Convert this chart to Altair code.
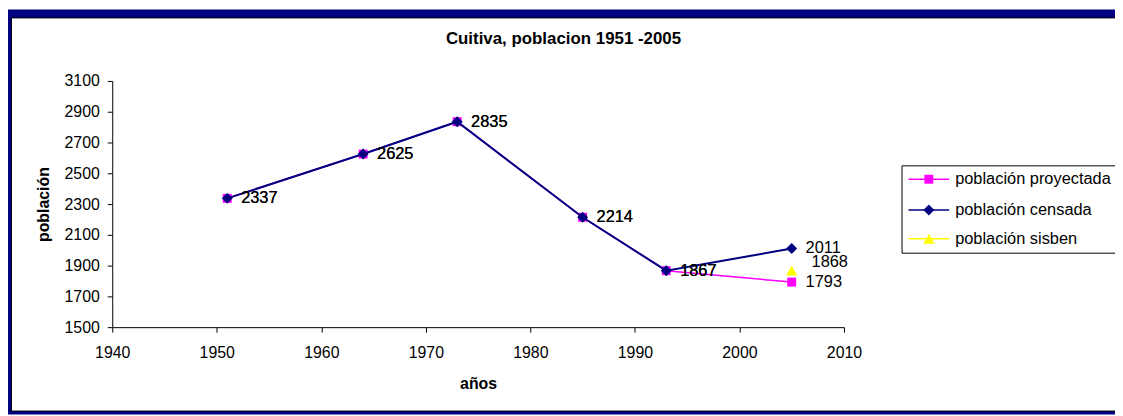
import altair as alt
import pandas as pd

# ---- data ----
years = [1951, 1964, 1973, 1985, 1993, 2005]
proyectada = [2337, 2625, 2835, 2214, 1867, 1793]
censada = [2337, 2625, 2835, 2214, 1867, 2011]
sisben_years = [2005]
sisben = [1868]

series_names = ["población proyectada", "población censada", "población sisben"]
series_colors = ["#FF00FF", "#000080", "#FFFF00"]
series_shapes = ["square", "diamond", "triangle-up"]
series_sizes = [81, 121, 130]

x_ticks = [1940, 1950, 1960, 1970, 1980, 1990, 2000, 2010]
y_ticks = [1500, 1700, 1900, 2100, 2300, 2500, 2700, 2900, 3100]

title_text = "Cuitiva, poblacion 1951 -2005"
x_title = "años"
y_title = "población"

FONT = "Liberation Sans"
W, H = 737, 248

df_p = pd.DataFrame({"year": years, "value": proyectada})
df_c = pd.DataFrame({"year": years, "value": censada})
df_s = pd.DataFrame({"year": sisben_years, "value": sisben})

X = alt.X("year:Q",
          scale=alt.Scale(domain=[x_ticks[0], x_ticks[-1]], nice=False, zero=False),
          axis=alt.Axis(values=x_ticks, title=x_title, format="d", grid=False, zindex=1,
                        labelFont=FONT, labelFontSize=16, labelColor="black",
                        labelPadding=13, tickSize=5, tickColor="black",
                        domainColor="black", labelFlush=False,
                        titleFont=FONT, titleFontSize=16, titleFontWeight="bold",
                        titleColor="black", titleX=W / 2, titleY=62,
                        titleBaseline="alphabetic", titleAlign="center"))
Y = alt.Y("value:Q",
          scale=alt.Scale(domain=[y_ticks[0], y_ticks[-1]], nice=False, zero=False),
          axis=alt.Axis(values=y_ticks, title=y_title, format="d", grid=False, zindex=1,
                        labelFont=FONT, labelFontSize=16, labelColor="black",
                        labelPadding=8, tickSize=5, tickColor="black",
                        domainColor="black", labelFlush=False,
                        titleFont=FONT, titleFontSize=16, titleFontWeight="bold",
                        titleColor="black", titleX=-64.5, titleY=H / 2,
                        titleAngle=-90, titleBaseline="alphabetic",
                        titleAlign="center"))

one = pd.DataFrame({"k": [0]})

# ---- frame decoration ----
frame_outer = alt.Chart(one).mark_rect(color="#000080").encode(
    x=alt.value(-105), x2=alt.value(1010), y=alt.value(-72), y2=alt.value(336))
frame_inner = alt.Chart(one).mark_rect(fill="white", stroke="black", strokeWidth=1).encode(
    x=alt.value(-101.5), x2=alt.value(1100), y=alt.value(-63.5), y2=alt.value(332.5))

title = alt.Chart(one).mark_text(font=FONT, fontSize=17, fontWeight="bold",
                                 align="center", baseline="alphabetic",
                                 color="black").encode(
    x=alt.value(454.5), y=alt.value(-37), text=alt.value(title_text))

# ---- data layers ----
line_p = alt.Chart(df_p).mark_line(color=series_colors[0], strokeWidth=1.5).encode(x=X, y=Y)
pts_p = alt.Chart(df_p).mark_point(shape=series_shapes[0], size=series_sizes[0], filled=True,
                                   opacity=1, color=series_colors[0]).encode(x=X, y=Y)
line_c = alt.Chart(df_c).mark_line(color=series_colors[1], strokeWidth=2).encode(x=X, y=Y)
pts_c = alt.Chart(df_c).mark_point(shape=series_shapes[1], size=series_sizes[1], filled=True,
                                   opacity=1, color=series_colors[1]).encode(x=X, y=Y)
pts_s = alt.Chart(df_s).mark_point(shape=series_shapes[2], size=series_sizes[2], filled=True,
                                   opacity=1, color=series_colors[2]).encode(x=X, y=Y)

lab_p = alt.Chart(df_p).mark_text(font=FONT, fontSize=16.5, align="left", baseline="middle",
                                  dx=14, color="black").encode(x=X, y=Y, text=alt.Text("value:Q", format="d"))
lab_c = alt.Chart(df_c).mark_text(font=FONT, fontSize=16.5, align="left", baseline="middle",
                                  dx=14, color="black").encode(x=X, y=Y, text=alt.Text("value:Q", format="d"))
lab_s = alt.Chart(df_s).mark_text(font=FONT, fontSize=16.5, align="left", baseline="middle",
                                  dx=20, dy=-9, color="black").encode(x=X, y=Y, text=alt.Text("value:Q", format="d"))

# ---- legend (manual, Excel style) ----
legend_layers = [
    alt.Chart(one).mark_rect(fill="white", stroke="black", strokeWidth=1).encode(
        x=alt.value(795.5), x2=alt.value(1100), y=alt.value(85.5), y2=alt.value(173.5))
]
legend_y = [99, 130, 159]
for name, col, shp, sz, ly in zip(series_names, series_colors, series_shapes, series_sizes, legend_y):
    legend_layers.append(alt.Chart(one).mark_rule(color=col, strokeWidth=1.5).encode(
        x=alt.value(802), x2=alt.value(843), y=alt.value(ly)))
    legend_layers.append(alt.Chart(one).mark_point(shape=shp, size=sz, filled=True, opacity=1,
                                                   color=col).encode(
        x=alt.value(822.5), y=alt.value(ly)))
    legend_layers.append(alt.Chart(one).mark_text(font=FONT, fontSize=16.5, align="left",
                                                  baseline="middle", color="black").encode(
        x=alt.value(849), y=alt.value(ly), text=alt.value(name)))

chart = alt.layer(
    frame_outer, frame_inner, title,
    line_p, pts_p, line_c, pts_c, pts_s,
    lab_p, lab_c, lab_s,
    *legend_layers
).properties(
    width=W, height=H,
    autosize=alt.AutoSizeParams(type="none"),
    padding={"left": 105, "top": 72, "right": 273, "bottom": 88},
    background="white",
).configure_view(stroke=None)

chart.save("out.html", embed_options={"renderer": "svg", "actions": False})
